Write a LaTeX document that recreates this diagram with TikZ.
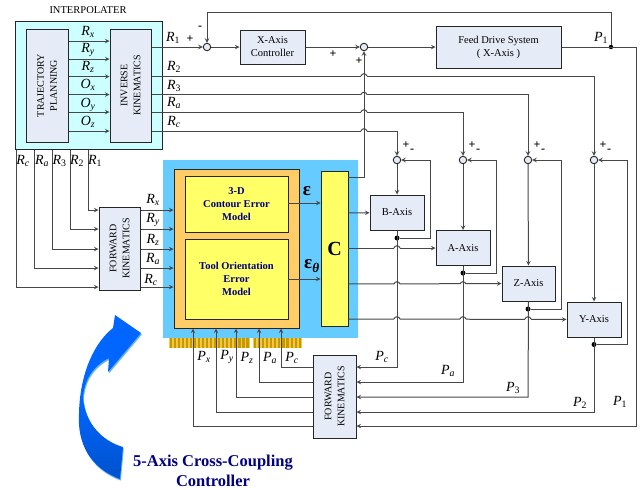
\documentclass[tikz,border=0pt]{standalone}
\usepackage{amsmath,amssymb,fontspec}
\setmainfont{Liberation Serif}
\definecolor{figC}{RGB}{204,255,255}
\definecolor{figK}{RGB}{230,236,247}
\definecolor{figS}{RGB}{102,204,255}
\definecolor{figO}{RGB}{255,204,102}
\definecolor{figY}{RGB}{255,255,102}
\definecolor{figN}{RGB}{0,0,128}
\definecolor{figG}{RGB}{200,152,0}
\definecolor{figL}{RGB}{240,200,70}
\definecolor{figT}{RGB}{0,102,255}
\definecolor{figU}{RGB}{0,82,205}
\definecolor{figE}{RGB}{100,180,255}
\newcommand{\sigl}[2]{{\fontsize{14}{14}\selectfont\textit{#1}\textsubscript{\textit{#2}}}}
\newcommand{\sign}[2]{{\fontsize{14}{14}\selectfont\textit{#1}\textsubscript{#2}}}
\tikzset{
  sig/.style={draw=black!72,line width=1pt},
  blk/.style={draw=black!85,fill=figK,line width=1pt,inner sep=0pt,align=center,font=\fontsize{10.5}{13}\selectfont},
  kin/.style={blk,rotate=90,font=\fontsize{10}{13}\selectfont},
  yel/.style={draw=black!85,fill=figY,line width=0.9pt,inner sep=0pt,align=center,text=figN,font=\fontsize{10.5}{13.4}\selectfont\bfseries},
  sumc/.style={circle,draw=black!85,fill=figK,line width=0.9pt,minimum size=7.5pt,inner sep=0pt},
  jnc/.style={circle,fill=black,minimum size=5pt,inner sep=0pt},
  lab/.style={inner sep=0pt},
  pm/.style={inner sep=0pt,font=\fontsize{12}{12}\selectfont\bfseries}
}
\newcommand{\hopx}[2]{\fill[white] (#1-3,#2-0.8) rectangle (#1+3,#2+0.8);
  \draw[sig] (#1-3,#2) .. controls (#1-2,#2-3) and (#1+2,#2-3) .. (#1+3,#2);}
\newcommand{\bend}{(115,315) -- (141,333) -- (108,372) -- (109,358) .. controls (93,366) and (84,380) .. (83,398) .. controls (85,423) and (102,441) .. (123,447) -- (120,479) .. controls (90,468) and (77,443) .. (79,413) .. controls (80,372) and (95,342) .. (113,328) -- cycle}
\begin{document}
\begin{tikzpicture}[x=1pt,y=-1pt,>=stealth]
\useasboundingbox (0,0) rectangle (641,490);
\node[lab,font=\fontsize{10.5}{11}\selectfont] (ttl) at (88,10) {INTERPOLATER};
\node[draw=black!85,fill=figC,line width=1pt,minimum width=147pt,minimum height=128pt,inner sep=0pt] (ipl) at (88.5,85) {};
\node[kin,minimum width=113pt,minimum height=42pt] (trj) at (47,85.5) {TRAJECTORY\\PLANNING};
\node[kin,minimum width=113pt,minimum height=41pt] (ink) at (130.5,85.5) {INVERSE\\KINEMATICS};
\foreach \y/\t/\s/\ly in {41/R/x/32,59/R/y/50,76.5/R/z/67,94.5/O/x/85,112/O/y/105,131/O/z/122}{
  \draw[sig,->] (trj.south |- 0,\y) -- (ink.north |- 0,\y);
  \node[lab] (lb\t\s) at (88,\ly) {\sigl{\t}{\s}};
}
% x axis loop
\node[sumc] (sx) at (207,47) {};
\node[blk,minimum width=65pt,minimum height=34pt] (xct) at (272.5,47) {X-Axis\\Controller};
\node[sumc] (sy) at (364,47) {};
\node[blk,minimum width=125pt,minimum height=42pt] (fds) at (498.5,47) {Feed Drive System\\( X-Axis )};
\node[jnc,minimum size=4.5pt] (jx) at (611,47) {};
\draw[sig,->] (ink.south |- sx) -- (sx);
\draw[sig,->] (sx) -- (xct);
\draw[sig,->] (xct) -- (sy);
\draw[sig,->] (sy) -- (fds);
\draw[sig,->] (jx) -- (611,12) -- (207,12) -- (sx);
\node[lab] (lr1) at (173,38) {\sign{R}{1}};
\node[pm] (pa) at (190,39) {+};
\node[pm] (pb) at (200,28) {-};
\node[pm] (pc) at (333,54) {+};
\node[pm] (pd) at (359,61) {+};
\node[lab] (lp1) at (601,38) {\sign{P}{1}};
% axis blocks
\node[blk,minimum width=54pt,minimum height=35pt] (bax) at (397,212.5) {B-Axis};
\node[blk,minimum width=54pt,minimum height=35pt] (aax) at (463,248) {A-Axis};
\node[blk,minimum width=53pt,minimum height=35pt] (zax) at (528.5,283.5) {Z-Axis};
\node[blk,minimum width=54pt,minimum height=35pt] (yax) at (594,319.5) {Y-Axis};
% controller
\node[fill=figS,minimum width=195pt,minimum height=178pt,inner sep=0pt] (cbg) at (260.5,249) {};
\node[draw=black!85,fill=figO,line width=1pt,minimum width=125pt,minimum height=159pt,inner sep=0pt] (org) at (236.5,248.5) {};
\node[yel,minimum width=103pt,minimum height=56pt] (cem) at (236.5,204) {3-D\\Contour Error\\Model};
\node[yel,minimum width=103pt,minimum height=80pt] (tem) at (236.5,279) {Tool Orientation\\Error\\Model};
\node[draw=black!85,fill=figY,line width=0.9pt,minimum width=27pt,minimum height=155pt,inner sep=0pt,font=\fontsize{20}{20}\selectfont\bfseries] (cbk) at (334.5,248.5) {C};
\draw[sig,->] (cem.east |- 0,203) -- (cbk.west |- 0,203);
\draw[sig,->] (tem.east |- 0,279) -- (cbk.west |- 0,279);
\node[lab,font=\fontsize{19}{19}\selectfont\bfseries] (lep) at (307,191) {ε};
\node[lab,font=\fontsize{19}{19}\selectfont\bfseries] (let) at (312,266) {ε\textsubscript{\textit{θ}}};
\foreach \i in {0,...,19}{\fill[figL] (169+\i*4.03,338) rectangle ++(4.03,10); \fill[figG] (169.8+\i*4.03,338) rectangle ++(2.2,10);}
\foreach \i in {0,...,11}{\fill[figL] (253+\i*4.08,338) rectangle ++(4.08,10); \fill[figG] (253.8+\i*4.08,338) rectangle ++(2.2,10);}
% inverse kinematics outputs
\foreach \y/\x/\n in {76/594/2,94.5/528/3,112/463/a,131/397/c}{
  \node[sumc] (s\n) at (\x,160) {};
  \draw[sig,->] (ink.south |- 0,\y) -- (\x,\y) -- (s\n);
  \hopx{364}{\y}
  \node[pm] (pl\n) at (\x+9,145) {+};
  \node[pm] (mn\n) at (\x+15,151) {-};
}
\node[lab] (lr2) at (174,67) {\sign{R}{2}};
\node[lab] (lr3) at (174,86) {\sign{R}{3}};
\node[lab] (lra) at (174,103) {\sigl{R}{a}};
\node[lab] (lrc) at (174,122) {\sigl{R}{c}};
% controller outputs
\draw[sig,->] (cbk.east |- 0,213) -- (bax);
\draw[sig,->] (cbk.east |- 0,248) -- (aax);
\draw[sig,->] (cbk.east |- 0,284) -- (zax);
\draw[sig,->] (cbk.east |- 0,319) -- (yax);
\foreach \x/\y in {397/248,397/284,463/284,397/319,463/319,528/319}{\hopx{\x}{\y}}
\draw[sig,->] (cbk.east |- 0,177) -- (364,177) -- (sy);
% axis feedback
\foreach \n/\x/\y/\r in {c/397/238/430,a/463/273/496,3/528/309/561,2/594/344.5/627}{
  \node[jnc] (j\n) at (\x,\y) {};
  \draw[sig,->] (j\n) -- (\r,\y) -- (\r,160) -- (s\n);
}
\draw[sig,->] (sc) -- (bax);
\draw[sig,->] (sa) -- (aax);
\draw[sig,->] (s3) -- (zax);
\draw[sig,->] (s2) -- (yax);
% feedback kinematics
\node[kin,minimum width=83pt,minimum height=43pt] (fkb) at (334.5,396.5) {FORWARD\\KINEMATICS};
\draw[sig,->] (bax.south) -- (397,367) -- (fkb.south |- 0,367);
\draw[sig,->] (aax.south) -- (463,382) -- (fkb.south |- 0,382);
\draw[sig,->] (zax.south) -- (528,397) -- (fkb.south |- 0,397);
\draw[sig,->] (yax.south) -- (594,412) -- (fkb.south |- 0,412);
\draw[sig,->] (fds) -- (636,47) -- (636,426) -- (fkb.south |- 0,426);
\foreach \x/\y/\t/\ly in {281/367/c/358,259/382/a/358,236/397/z/358,216/412/y/357,193/426/x/357}{
  \draw[sig,->] (fkb.north |- 0,\y) -- (\x,\y) -- (org.south -| \x,0);
  \node[lab] (lp\t) at (\x+11,\ly) {\sigl{P}{\t}};
}
\node[lab] (lqc) at (382,357) {\sigl{P}{c}};
\node[lab] (lqa) at (448,371) {\sigl{P}{a}};
\node[lab] (lq3) at (513,388) {\sign{P}{3}};
\node[lab] (lq2) at (580,403) {\sign{P}{2}};
\node[lab] (lq1) at (620,402) {\sign{P}{1}};
% forward kinematics
\node[kin,minimum width=83pt,minimum height=41pt] (fkt) at (119.5,248.5) {FORWARD\\KINEMATICS};
\foreach \x/\y in {88/210,70/229,52/249,34/268,16/287}{
  \draw[sig,->] (ipl.south -| \x,0) -- (\x,\y) -- (fkt.north |- 0,\y);
  \draw[sig,->] (fkt.south |- 0,\y) -- (org.west |- 0,\y);
}
\node[lab] (lb1) at (95,161) {\sign{R}{1}};
\node[lab] (lb2) at (77,161) {\sign{R}{2}};
\node[lab] (lb3) at (59.5,161) {\sign{R}{3}};
\node[lab] (lba) at (42,161) {\sigl{R}{a}};
\node[lab] (lbc) at (23,161) {\sigl{R}{c}};
\node[lab] (lfx) at (153,200) {\sigl{R}{x}};
\node[lab] (lfy) at (153,220) {\sigl{R}{y}};
\node[lab] (lfz) at (153,240) {\sigl{R}{z}};
\node[lab] (lfa) at (153,259) {\sigl{R}{a}};
\node[lab] (lfc) at (151,280) {\sigl{R}{c}};
% curved arrow
\fill[figE,shift={(0.8,1.6)}] \bend;
\shade[top color=figT,bottom color=figU,middle color=figT] \bend;
\node[lab,text=figN,align=center,font=\fontsize{16.5}{19.5}\selectfont\bfseries] (ccc) at (213,471) {5-Axis Cross-Coupling\\Controller};
\end{tikzpicture}
\end{document}
